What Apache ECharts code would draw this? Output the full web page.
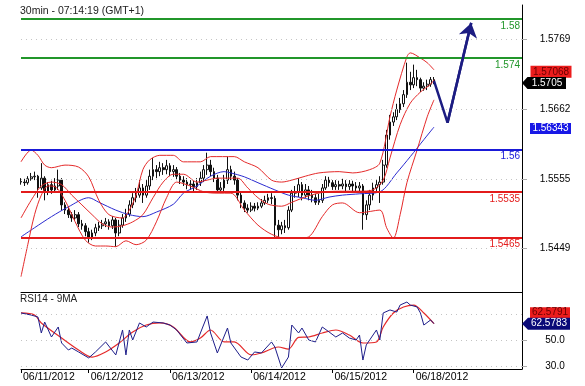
<!DOCTYPE html>
<html>
<head>
<meta charset="utf-8">
<script src="https://cdn.jsdelivr.net/npm/echarts@6/dist/echarts.min.js"></script>
<style>
  html, body { margin: 0; padding: 0; background: #fff; }
  #chart { width: 585px; height: 386px; }
</style>
</head>
<body>
<div id="chart"></div>
<script>
// 30 分钟图（按小时取样），06/11 04:00 起
const slotCount = 149;
const dayTicks = [0, 20, 44, 68, 92, 116];
const dayLabels = ['06/11/2012', '06/12/2012', '06/13/2012', '06/14/2012', '06/15/2012', '06/18/2012'];

const firstOpen = 1.5551;
const closes = [
  1.5550, 1.5549, 1.5555, 1.5558, 1.5559, 1.5541, 1.5556, 1.5535, 1.5546, 1.5538,
  1.5544, 1.5553, 1.5515, 1.5507, 1.5500, 1.5495, 1.5500, 1.5486, 1.5483, 1.5474,
  1.5464, 1.5472, 1.5480, 1.5483, 1.5486, 1.5489, 1.5483, 1.5492, 1.5472, 1.5484,
  1.5495, 1.5501, 1.5515, 1.5526, 1.5530, 1.5541, 1.5530, 1.5544, 1.5559, 1.5569,
  1.5566, 1.5572, 1.5569, 1.5575, 1.5566, 1.5569, 1.5559, 1.5553, 1.5550, 1.5546,
  1.5547, 1.5543, 1.5549, 1.5556, 1.5569, 1.5576, 1.5566, 1.5556, 1.5538, 1.5541,
  1.5553, 1.5569, 1.5559, 1.5553, 1.5530, 1.5518, 1.5510, 1.5507, 1.5513, 1.5510,
  1.5513, 1.5518, 1.5522, 1.5526, 1.5525, 1.5484, 1.5477, 1.5483, 1.5480, 1.5507,
  1.5533, 1.5535, 1.5546, 1.5530, 1.5538, 1.5530, 1.5526, 1.5519, 1.5522, 1.5541,
  1.5553, 1.5549, 1.5543, 1.5546, 1.5544, 1.5547, 1.5543, 1.5547, 1.5544, 1.5541,
  1.5544, 1.5500, 1.5515, 1.5530, 1.5541, 1.5546, 1.5550, 1.5576, 1.5622, 1.5642,
  1.5650, 1.5661, 1.5670, 1.5684, 1.5703, 1.5699, 1.5710, 1.5707, 1.5694, 1.5697,
  1.5700, 1.5707, 1.5705
];
const highs = [
  1.5556, 1.5555, 1.5559, 1.5564, 1.5566, 1.5561, 1.5579, 1.5559, 1.5550, 1.5552,
  1.5556, 1.5569, 1.5556, 1.5519, 1.5513, 1.5504, 1.5507, 1.5504, 1.5492, 1.5487,
  1.5480, 1.5477, 1.5486, 1.5489, 1.5492, 1.5495, 1.5493, 1.5498, 1.5495, 1.5492,
  1.5501, 1.5509, 1.5522, 1.5533, 1.5541, 1.5553, 1.5547, 1.5553, 1.5569, 1.5587,
  1.5576, 1.5581, 1.5579, 1.5584, 1.5579, 1.5576, 1.5573, 1.5564, 1.5559, 1.5556,
  1.5553, 1.5552, 1.5556, 1.5566, 1.5576, 1.5595, 1.5584, 1.5572, 1.5561, 1.5550,
  1.5561, 1.5589, 1.5575, 1.5566, 1.5556, 1.5535, 1.5522, 1.5516, 1.5519, 1.5518,
  1.5519, 1.5524, 1.5529, 1.5532, 1.5533, 1.5529, 1.5492, 1.5489, 1.5492, 1.5513,
  1.5538, 1.5544, 1.5556, 1.5550, 1.5547, 1.5544, 1.5538, 1.5532, 1.5532, 1.5547,
  1.5559, 1.5558, 1.5553, 1.5553, 1.5552, 1.5555, 1.5553, 1.5553, 1.5552, 1.5550,
  1.5550, 1.5547, 1.5522, 1.5538, 1.5549, 1.5553, 1.5559, 1.5584, 1.5630, 1.5653,
  1.5657, 1.5670, 1.5679, 1.5691, 1.5733, 1.5719, 1.5730, 1.5722, 1.5710, 1.5703,
  1.5707, 1.5711, 1.5711
];
const lows = [
  1.5546, 1.5544, 1.5546, 1.5552, 1.5553, 1.5526, 1.5538, 1.5522, 1.5530, 1.5532,
  1.5535, 1.5538, 1.5507, 1.5501, 1.5495, 1.5489, 1.5492, 1.5481, 1.5477, 1.5467,
  1.5457, 1.5461, 1.5467, 1.5475, 1.5478, 1.5481, 1.5477, 1.5478, 1.5451, 1.5467,
  1.5480, 1.5489, 1.5497, 1.5510, 1.5519, 1.5526, 1.5518, 1.5526, 1.5538, 1.5553,
  1.5556, 1.5559, 1.5561, 1.5562, 1.5559, 1.5558, 1.5553, 1.5547, 1.5544, 1.5539,
  1.5538, 1.5536, 1.5538, 1.5544, 1.5550, 1.5561, 1.5559, 1.5550, 1.5533, 1.5533,
  1.5536, 1.5547, 1.5553, 1.5546, 1.5522, 1.5510, 1.5504, 1.5503, 1.5504, 1.5505,
  1.5507, 1.5510, 1.5515, 1.5518, 1.5516, 1.5466, 1.5466, 1.5470, 1.5472, 1.5477,
  1.5504, 1.5526, 1.5527, 1.5522, 1.5526, 1.5522, 1.5519, 1.5515, 1.5515, 1.5518,
  1.5538, 1.5543, 1.5538, 1.5538, 1.5538, 1.5539, 1.5536, 1.5538, 1.5536, 1.5535,
  1.5533, 1.5477, 1.5492, 1.5507, 1.5522, 1.5535, 1.5518, 1.5546, 1.5572, 1.5615,
  1.5636, 1.5645, 1.5656, 1.5665, 1.5679, 1.5691, 1.5694, 1.5697, 1.5688, 1.5690,
  1.5691, 1.5696, 1.5700
];

// 布林带与均线（[时段序号, 价格]）
const bbUpper = [[0,1.5581],[3,1.5599],[5,1.5591],[7,1.5576],[9,1.5572],[13,1.5576],[17,1.5573],[20,1.5558],[23,1.5522],[26,1.5500],[30,1.5495],[32,1.5507],[34,1.5530],[36,1.5569],[38,1.5584],[41,1.5591],[45,1.5591],[48,1.5581],[53,1.5581],[56,1.5589],[63,1.5589],[66,1.5581],[70,1.5572],[74,1.5553],[77,1.5550],[80,1.5553],[84,1.5559],[88,1.5564],[94,1.5566],[98,1.5564],[103,1.5569],[106,1.5579],[109,1.5650],[111,1.5691],[114,1.5742],[115,1.5748],[118,1.5740],[120,1.5733],[122,1.5722]];
const bbMiddle = [[0,1.5495],[3,1.5522],[6,1.5544],[9,1.5550],[12,1.5546],[15,1.5530],[18,1.5515],[21,1.5500],[24,1.5486],[27,1.5481],[30,1.5483],[33,1.5489],[36,1.5500],[39,1.5526],[42,1.5550],[45,1.5562],[48,1.5562],[52,1.5550],[55,1.5553],[58,1.5556],[61,1.5556],[64,1.5556],[67,1.5541],[70,1.5526],[73,1.5516],[77,1.5513],[80,1.5519],[85,1.5529],[90,1.5535],[95,1.5536],[100,1.5536],[104,1.5538],[107,1.5553],[109,1.5587],[112,1.5638],[115,1.5671],[118,1.5688],[121,1.5700],[122,1.57068]];
const bbLower = [[0,1.5405],[2,1.5454],[4,1.5500],[6,1.5530],[8,1.5544],[10,1.5543],[13,1.5522],[16,1.5489],[19,1.5461],[22,1.5452],[25,1.5452],[28,1.5451],[31,1.5460],[34,1.5454],[37,1.5461],[40,1.5489],[43,1.5526],[46,1.5550],[50,1.5544],[54,1.5535],[58,1.5533],[62,1.5533],[66,1.5507],[70,1.5484],[74,1.5470],[78,1.5464],[82,1.5464],[85,1.5466],[89,1.5497],[92,1.5515],[95,1.5518],[100,1.5503],[106,1.5507],[108,1.5480],[110,1.5464],[112,1.5500],[114,1.5549],[117,1.5599],[120,1.5650],[122,1.5676]];
const maBlue = [[0,1.5466],[4,1.5480],[9,1.5497],[14,1.5512],[20,1.5526],[23,1.5519],[28,1.5507],[32,1.5500],[36,1.5497],[40,1.5504],[45,1.5516],[48,1.5533],[52,1.5544],[56,1.5559],[60,1.5566],[62,1.5564],[66,1.5558],[70,1.5549],[75,1.5538],[79,1.5530],[83,1.5526],[87,1.5522],[91,1.5527],[95,1.5530],[100,1.5532],[106,1.5535],[111,1.5564],[115,1.5589],[119,1.5615],[122,1.56343]];

// 水平价位线、预测箭头
const levels = [1.58, 1.574, 1.56, 1.5535, 1.5465];
const arrowPath = [[122, 1.5705], [126, 1.5641], [133, 1.5794]];
const priceTicks = [1.5449, 1.5555, 1.5662, 1.5769];
const lastPrice = 1.5705;

// RSI14 与其 9 期均线
const rsi = [[0,70.8],[3,69.2],[5,67.7],[6,55.4],[7,63.8],[9,52.3],[11,60.0],[12,47.7],[14,42.3],[15,43.8],[17,40.8],[20,36.2],[22,40.8],[25,48.5],[28,38.5],[30,57.7],[31,38.5],[32,57.7],[33,50.0],[35,63.1],[37,60.0],[39,63.8],[42,63.1],[44,61.5],[46,57.7],[49,47.7],[52,48.5],[53,55.4],[55,68.5],[56,55.4],[58,40.0],[61,59.2],[62,47.7],[65,36.9],[67,34.6],[69,40.8],[71,40.0],[74,48.5],[75,44.6],[77,28.5],[79,36.9],[80,61.5],[82,55.4],[83,59.2],[85,50.0],[87,48.5],[89,60.0],[91,56.2],[93,52.3],[95,55.4],[97,51.5],[99,50.0],[100,53.8],[101,34.6],[102,46.2],[103,50.0],[105,57.7],[106,50.0],[107,70.8],[109,73.1],[111,71.5],[112,76.9],[114,79.2],[115,76.9],[117,75.4],[118,70.8],[119,61.5],[121,65.4],[122,62.5783]];
const rsiMa = [[0,70.8],[4,69.2],[6,63.1],[12,51.5],[17,42.3],[21,36.9],[25,40.8],[29,47.7],[33,56.2],[37,61.5],[41,63.1],[45,60.0],[50,48.5],[53,51.5],[56,57.7],[60,48.5],[63,48.5],[68,38.5],[71,40.0],[76,44.6],[79,43.0],[82,52.0],[85,52.3],[89,55.4],[93,57.7],[97,53.8],[101,47.7],[105,48.5],[107,60.0],[110,70.8],[113,75.4],[116,76.9],[119,70.8],[122,62.5791]];
const rsiTicks = [30, 50];
const rsiGuides = [30, 50, 70];

const slots = Array.from({ length: slotCount }, (_, i) => i);
const candles = closes.map((c, i) => [i ? closes[i - 1] : firstOpen, c, lows[i], highs[i]]);
const lastSlot = slotCount - 1;

const levelColors = ['#21962a', '#21962a', '#1a1ad8', '#e31b1b', '#e31b1b'];
const dotted = { color: '#c4c4c4', type: [1, 4], width: 1 };
const tagPath = 'path://M0,6L6,0L48,0L48,12L6,12Z';

const chart = echarts.init(document.getElementById('chart'));

const option = {
  animation: false,
  backgroundColor: '#fff',
  textStyle: { fontFamily: 'Liberation Sans, Arial, sans-serif' },
  title: [
    { text: '30min - 07:14:19 (GMT+1)', left: 20, top: 6, padding: 0,
      textStyle: { fontSize: 10.5, fontWeight: 'normal', color: '#222' } },
    { text: 'RSI14 - 9MA', left: 20, top: 294, padding: 0,
      textStyle: { fontSize: 10, fontWeight: 'normal', color: '#222' } }
  ],
  grid: [
    { left: 21, right: 63, top: 5, height: 287 },
    { left: 21, right: 63, top: 292, height: 77 }
  ],
  xAxis: [
    { type: 'category', gridIndex: 0, data: slots, boundaryGap: false,
      axisLine: { lineStyle: { color: '#000' } }, axisTick: { show: false },
      axisLabel: { show: false }, splitLine: { show: false } },
    { type: 'category', gridIndex: 1, data: slots, boundaryGap: false,
      axisLine: { lineStyle: { color: '#000' } },
      axisTick: { interval: (i) => dayTicks.includes(i), length: 4, lineStyle: { color: '#000' } },
      axisLabel: {
        interval: (i) => dayTicks.includes(i),
        formatter: (v, i) => dayLabels[dayTicks.indexOf(i)] || '',
        align: 'left', margin: 3, padding: [0, 0, 0, 2], fontSize: 10.5, color: '#000'
      },
      splitLine: { show: false } }
  ],
  yAxis: [
    { type: 'value', gridIndex: 0, position: 'right', min: 1.53815, max: 1.58214,
      axisLine: { show: true, lineStyle: { color: '#000' } },
      axisTick: { show: true, customValues: priceTicks, length: 5, lineStyle: { color: '#aaa' } },
      axisLabel: { customValues: priceTicks, formatter: (v) => v.toFixed(4),
        margin: 33, align: 'center', fontSize: 10, color: '#000' },
      splitLine: { show: false } },
    { type: 'value', gridIndex: 1, position: 'right', min: 27.69, max: 86.92,
      axisLine: { show: true, lineStyle: { color: '#000' } },
      axisTick: { show: true, customValues: rsiTicks, length: 5, lineStyle: { color: '#aaa' } },
      axisLabel: { customValues: rsiTicks, formatter: (v) => v.toFixed(1),
        margin: 33, align: 'center', fontSize: 10, color: '#000' },
      splitLine: { show: false } }
  ],
  series: [
    {
      name: 'MA', type: 'line', xAxisIndex: 0, yAxisIndex: 0, data: maBlue,
      smooth: 0.3, symbol: 'none', clip: false,
      lineStyle: { color: '#2b2bd0', width: 1 },
      markLine: {
        silent: true, symbol: ['none', 'none'], precision: 5,
        data: [
          ...priceTicks.map(v => ({ yAxis: v, lineStyle: dotted, label: { show: false } })),
          ...levels.map((v, k) => ({
            yAxis: v,
            lineStyle: { color: levelColors[k], width: 2, type: 'solid' },
            label: { show: true, position: 'insideEndBottom', distance: 2,
              formatter: String(v), color: levelColors[k], fontSize: 10 }
          }))
        ]
      },
      markPoint: {
        silent: true,
        data: [{ coord: [lastSlot, maBlue[maBlue.length - 1][1]], value: maBlue[maBlue.length - 1][1] }],
        symbol: 'rect', symbolSize: [41, 11], symbolOffset: [28.5, 1.5],
        itemStyle: { color: '#1818e6' },
        label: { show: true, position: 'inside', color: '#fff', fontSize: 10,
          formatter: (p) => p.value.toFixed(5) }
      }
    },
    { name: 'BB upper', type: 'line', data: bbUpper, smooth: 0.3, symbol: 'none',
      lineStyle: { color: '#e52a2a', width: 1 } },
    { name: 'BB middle', type: 'line', data: bbMiddle, smooth: 0.3, symbol: 'none', clip: false,
      lineStyle: { color: '#e52a2a', width: 1 },
      markPoint: {
        silent: true,
        data: [{ coord: [lastSlot, bbMiddle[bbMiddle.length - 1][1]], value: bbMiddle[bbMiddle.length - 1][1] }],
        symbol: 'rect', symbolSize: [41, 12], symbolOffset: [29, -8],
        itemStyle: { color: '#ec1c1c' },
        label: { show: true, position: 'inside', color: '#6a0000', fontSize: 10,
          formatter: (p) => p.value.toFixed(5) }
      } },
    { name: 'BB lower', type: 'line', data: bbLower, smooth: 0.3, symbol: 'none',
      lineStyle: { color: '#e52a2a', width: 1 } },
    {
      name: 'Price', type: 'candlestick', data: candles, barWidth: 2.2,
      itemStyle: { color: '#fff', color0: '#111', borderColor: '#111', borderColor0: '#111', borderWidth: 1 },
      markPoint: {
        silent: true,
        data: [{ coord: [lastSlot, lastPrice], value: lastPrice }],
        symbol: tagPath, symbolSize: [44, 12], symbolOffset: [22, 2],
        itemStyle: { color: '#000' },
        label: { show: true, position: 'inside', color: '#fff', fontSize: 10, offset: [3, 0],
          formatter: (p) => p.value.toFixed(4) }
      }
    },
    {
      name: 'Projection', type: 'line', data: arrowPath, symbol: 'none',
      lineStyle: { color: '#1c1c82', width: 2.5 },
      markLine: {
        silent: true, symbol: ['none', 'arrow'], symbolSize: 14,
        lineStyle: { color: '#1c1c82', width: 2.5, type: 'solid' },
        label: { show: false },
        data: [[{ coord: arrowPath[1] }, { coord: arrowPath[2] }]]
      }
    },
    {
      name: 'RSI MA', type: 'line', xAxisIndex: 1, yAxisIndex: 1, data: rsiMa,
      smooth: 0.3, symbol: 'none', clip: false,
      lineStyle: { color: '#e52a2a', width: 1.2 },
      markLine: {
        silent: true, symbol: ['none', 'none'], precision: 2,
        data: rsiGuides.map(v => ({ yAxis: v, lineStyle: dotted, label: { show: false } }))
      },
      markPoint: {
        silent: true,
        data: [{ coord: [lastSlot, rsiMa[rsiMa.length - 1][1]], value: rsiMa[rsiMa.length - 1][1] }],
        symbol: 'rect', symbolSize: [40, 11], symbolOffset: [28, -11],
        itemStyle: { color: '#ec1c1c' },
        label: { show: true, position: 'inside', color: '#6a0000', fontSize: 10,
          formatter: (p) => p.value.toFixed(4) }
      }
    },
    {
      name: 'RSI', type: 'line', xAxisIndex: 1, yAxisIndex: 1, data: rsi,
      symbol: 'none', clip: false,
      lineStyle: { color: '#1e1e8a', width: 1 },
      markPoint: {
        silent: true,
        data: [{ coord: [lastSlot, rsi[rsi.length - 1][1]], value: rsi[rsi.length - 1][1] }],
        symbol: tagPath, symbolSize: [48, 12], symbolOffset: [24, 0],
        itemStyle: { color: '#0a0a78' },
        label: { show: true, position: 'inside', color: '#fff', fontSize: 10, offset: [3, 0],
          formatter: (p) => p.value.toFixed(4) }
      }
    }
  ]
};

chart.setOption(option);

window.addEventListener('resize', function () {
  chart.resize();
});
</script>
</body>
</html>
